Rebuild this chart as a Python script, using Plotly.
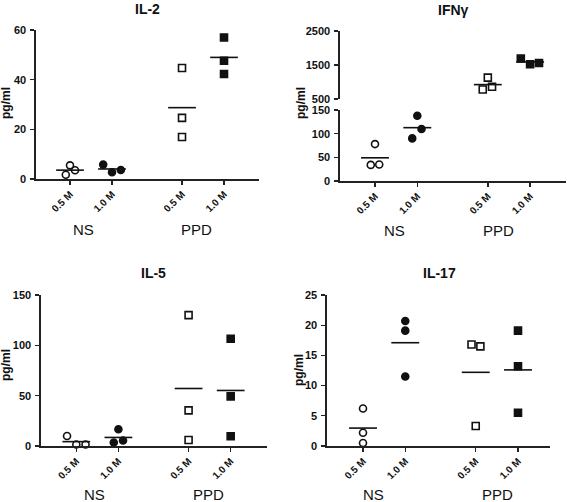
import numpy as np
import plotly.graph_objects as go

# ---------------- data ----------------
categories = ["0.5 M", "1.0 M", "0.5 M", "1.0 M"]
groups = ["NS", "PPD"]
cat_pos = [0, 1, 2.667, 3.667]

il2_ns05 = [1.7, 5.5, 3.5]
il2_ns10 = [5.8, 2.7, 3.6]
il2_ppd05 = [44.7, 24.6, 16.9]
il2_ppd10 = [57.0, 47.6, 42.3]

ifn_ns05 = [78, 34, 35]
ifn_ns10 = [138, 90, 110]
ifn_ppd05 = [1130, 780, 860]
ifn_ppd10 = [1690, 1520, 1560]

il5_ns05 = [10, 1.5, 1.5]
il5_ns10 = [16.7, 3.4, 5.4]
il5_ppd05 = [130, 35.4, 6]
il5_ppd10 = [106.5, 49.3, 9.7]

il17_ns05 = [6.2, 2.2, 0.5]
il17_ns10 = [20.7, 19.1, 11.5]
il17_ppd05 = [16.8, 16.5, 3.3]
il17_ppd10 = [19.1, 13.2, 5.5]

il2_ticks = [0, 20, 40, 60]
ifn_low_ticks = [0, 50, 100, 150]
ifn_high_ticks = [500, 1500, 2500]
il5_ticks = [0, 50, 100, 150]
il17_ticks = [0, 5, 10, 15, 20, 25]

# horizontal scatter offsets (layout only)
off_il2 = [[-0.1, 0, 0.12], [-0.21, 0, 0.21], [0, 0, 0], [0, 0, 0]]
off_ifn = [[0, -0.1, 0.1], [0, -0.12, 0.1], [0, -0.12, 0.1], [-0.22, 0, 0.21]]
off_il5 = [[-0.22, 0, 0.22], [0, -0.11, 0.11], [0, 0, 0], [0, 0, 0]]
off_il17 = [[0, 0, 0], [0, 0, 0], [-0.1, 0.11, 0], [0, 0, 0]]

W, H = 567, 502
FONT = "Arial, Liberation Sans, sans-serif"
BLACK = "#111111"
AX = "#222222"

symbols = ["circle-open", "circle", "square-open", "square"]

fig = go.Figure()


def add_group(vals, offs, ci, xa, ya):
    xs = [cat_pos[ci] + o for o in offs]
    fig.add_trace(go.Scatter(
        x=xs, y=vals, mode="markers", xaxis=xa, yaxis=ya, showlegend=False,
        marker=dict(symbol=symbols[ci], size=7, color=BLACK,
                    line=dict(color=BLACK, width=1.6)),
        hoverinfo="y", cliponaxis=False))
    m = float(np.mean(vals))
    fig.add_trace(go.Scatter(
        x=[cat_pos[ci] - 0.33, cat_pos[ci] + 0.33], y=[m, m], mode="lines",
        xaxis=xa, yaxis=ya, showlegend=False,
        line=dict(color=BLACK, width=1.6), hoverinfo="skip"))


# IL-2
for ci, (v, o) in enumerate(zip([il2_ns05, il2_ns10, il2_ppd05, il2_ppd10], off_il2)):
    add_group(v, o, ci, "x", "y")
# IFN-gamma: NS on lower segment, PPD on upper segment
add_group(ifn_ns05, off_ifn[0], 0, "x2", "y2")
add_group(ifn_ns10, off_ifn[1], 1, "x2", "y2")
add_group(ifn_ppd05, off_ifn[2], 2, "x2", "y3")
add_group(ifn_ppd10, off_ifn[3], 3, "x2", "y3")
# IL-5
for ci, (v, o) in enumerate(zip([il5_ns05, il5_ns10, il5_ppd05, il5_ppd10], off_il5)):
    add_group(v, o, ci, "x3", "y4")
# IL-17
for ci, (v, o) in enumerate(zip([il17_ns05, il17_ns10, il17_ppd05, il17_ppd10], off_il17)):
    add_group(v, o, ci, "x4", "y5")


def px_x(p):
    return p / W


def px_y(p):
    return 1 - p / H


def xaxis(x0, x1, tick0, unit, anchor):
    return dict(
        domain=[px_x(x0), px_x(x1)],
        range=[(x0 - tick0) / unit, (x1 - tick0) / unit],
        anchor=anchor, showline=True, linecolor=AX, linewidth=1.6,
        showgrid=False, zeroline=False, ticks="outside", ticklen=4,
        tickwidth=1.4, tickcolor=AX, automargin=False,
        tickvals=cat_pos, ticktext=categories, tickangle=-45,
        tickfont=dict(family=FONT, size=10, color=BLACK, weight="bold"),
        fixedrange=True)


def yaxis(y0, y1, rng, ticks, anchor):
    return dict(
        domain=[px_y(y0), px_y(y1)], range=rng, anchor=anchor,
        showline=True, linecolor=AX, linewidth=1.6, showgrid=False,
        zeroline=False, ticks="outside", ticklen=4, tickwidth=1.4,
        tickcolor=AX, tickvals=ticks, ticklabelstandoff=2, automargin=False,
        tickfont=dict(family=FONT, size=11, color=BLACK, weight="bold"),
        fixedrange=True)


fig.update_layout(
    width=W, height=H,
    margin=dict(l=0, r=0, t=0, b=0, pad=0, autoexpand=False),
    paper_bgcolor="white", plot_bgcolor="white",
    xaxis=xaxis(36, 259, 70, 42.0, "y"),
    yaxis=yaxis(179, 30, [0, 60], il2_ticks, "x"),
    xaxis2=xaxis(340, 566, 375, 42.3, "y2"),
    yaxis2=yaxis(181, 110, [0, 150], ifn_low_ticks, "x2"),
    yaxis3=yaxis(99, 31, [500, 2500], ifn_high_ticks, "x2"),
    xaxis3=xaxis(41, 267, 76.3, 42.1, "y4"),
    yaxis4=yaxis(446, 295, [0, 150], il5_ticks, "x3"),
    xaxis4=xaxis(327, 550, 363, 42.27, "y5"),
    yaxis5=yaxis(446, 295, [0, 25], il17_ticks, "x4"),
)

ann = []
titles = [("IL-2", 147, 9), ("IFNγ", 453, 10), ("IL-5", 153, 273), ("IL-17", 439, 273)]
for t, x, y in titles:
    ann.append(dict(text=t, x=px_x(x), y=px_y(y), xref="paper", yref="paper",
                    showarrow=False, xanchor="center", yanchor="middle",
                    font=dict(family=FONT, size=14, color=BLACK, weight="bold")))
ylabels = [(6, 103), (301, 103), (6, 365), (299, 370)]
for x, y in ylabels:
    ann.append(dict(text="pg/ml", x=px_x(x), y=px_y(y), xref="paper", yref="paper",
                    showarrow=False, textangle=-90, xanchor="center", yanchor="middle",
                    font=dict(family=FONT, size=12, color=BLACK, weight="bold")))
# group labels (x in data units of each panel)
grp = [("x", 0.31, 3.02, 229), ("x2", 0.45, 2.91, 230), ("x3", 0.44, 3.14, 494), ("x4", 0.24, 3.19, 494)]
for xr, a, b, y in grp:
    for g, xv in zip(groups, [a, b]):
        ann.append(dict(text=g, x=xv, y=px_y(y), xref=xr, yref="paper",
                        showarrow=False, xanchor="center", yanchor="middle",
                        font=dict(family=FONT, size=15, color=BLACK)))
fig.update_layout(annotations=ann)

fig.write_html(
    "out.html",
    config={"displayModeBar": False, "staticPlot": True},
    post_script="document.body.style.margin='0';document.body.style.padding='0';"
                "document.documentElement.style.overflow='hidden';")
